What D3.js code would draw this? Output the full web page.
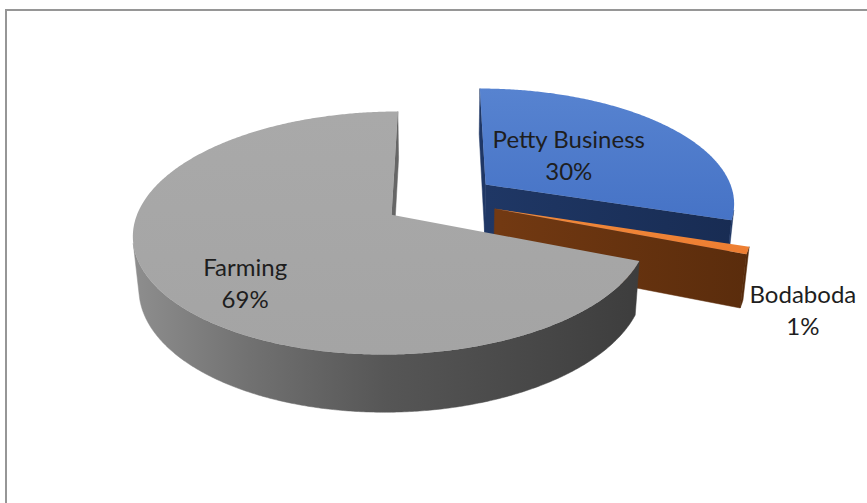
<!DOCTYPE html>
<html>
<head>
<meta charset="utf-8">
<script src="https://cdn.jsdelivr.net/npm/d3@7"></script>
<style>
html,body{margin:0;padding:0;background:#fff;}
svg{display:block;}
text{font-family:Lato,"Open Sans",sans-serif;}
</style>
</head>
<body>
<svg id="chart" width="867" height="503"></svg>
<script>
// ---- data ----
const categories = ["Petty Business", "Bodaboda", "Farming"];
const values = [30, 1, 69];
const pctLabels = ["30%", "1%", "69%"];

// ---- styles ----
const topColors = ["#4673c6", "#ed7d31", "#a4a4a4"];
const topColorsLight = ["#5783d0", "#f08a3c", "#a9a9a9"];
const wallColors = ["#1f3764", "#552a0b", null];

const W = 867, H = 503;
const svg = d3.select("#chart");

// projection parameters
const cx = 440, cy = 251, F = 1485, D = 6.06;
const phi = 29.2 * Math.PI / 180;
const sinP = Math.sin(phi), cosP = Math.cos(phi);
const hgt = 0.235, explode = 0.23;
const cam = [0, D * sinP, D * cosP];

function proj(x, y, z) {
  const d = D - (y * sinP + z * cosP);
  return [cx + F * x / d, cy - F * (y * cosP - z * sinP) / d];
}

const pie = d3.pie().sort(null).value(d => d).startAngle(0).endAngle(2 * Math.PI);
const arcs = pie(values);

const defs = svg.append("defs");
arcs.forEach((a, i) => {
  const g = defs.append("linearGradient").attr("id", "top" + i)
    .attr("x1", 0).attr("y1", 0).attr("x2", 0).attr("y2", 1);
  g.append("stop").attr("offset", 0).attr("stop-color", topColorsLight[i]);
  g.append("stop").attr("offset", 1).attr("stop-color", topColors[i]);
});
const fg = defs.append("linearGradient").attr("id", "farmSide")
  .attr("gradientUnits", "userSpaceOnUse")
  .attr("x1", 133).attr("y1", 0).attr("x2", 640).attr("y2", 0);
[[0, "#8e8e8e"], [0.23, "#717171"], [0.5, "#565656"], [1, "#3d3d3d"]]
  .forEach(s => fg.append("stop").attr("offset", s[0]).attr("stop-color", s[1]));
const bg = defs.append("linearGradient").attr("id", "bodaSide")
  .attr("gradientUnits", "userSpaceOnUse")
  .attr("x1", 500).attr("y1", 0).attr("x2", 750).attr("y2", 0);
bg.append("stop").attr("offset", 0).attr("stop-color", "#723912");
bg.append("stop").attr("offset", 1).attr("stop-color", "#5a2c0c");
const pg = defs.append("linearGradient").attr("id", "pettySide")
  .attr("gradientUnits", "userSpaceOnUse")
  .attr("x1", 487).attr("y1", 0).attr("x2", 735).attr("y2", 0);
pg.append("stop").attr("offset", 0).attr("stop-color", "#1f3765");
pg.append("stop").attr("offset", 1).attr("stop-color", "#182c53");
const radialFill = ["url(#pettySide)", "url(#bodaSide)", "#666666"];

// border
svg.append("rect").attr("x", 6).attr("y", 10).attr("width", 900).attr("height", 600)
  .attr("fill", "none").attr("stroke", "#969696").attr("stroke-width", 2);

const line = d3.line();
const gPie = svg.append("g");

function slicePoint(a, theta, r, y) {
  const mid = (a.startAngle + a.endAngle) / 2;
  const ox = explode * Math.sin(mid), oz = -explode * Math.cos(mid);
  return [ox + r * Math.sin(theta), y, oz - r * Math.cos(theta)];
}
function facing(p, n) {
  return (cam[0] - p[0]) * n[0] + (cam[1] - p[1]) * n[1] + (cam[2] - p[2]) * n[2] > 0;
}

arcs.forEach((a, i) => {
  const g = gPie.append("g");
  const a0 = a.startAngle, a1 = a.endAngle;
  const step = Math.PI / 360;
  [[a0, a0 - Math.PI / 2], [a1, a1 + Math.PI / 2]].forEach(([th, nth]) => {
    const n = [Math.sin(nth), 0, -Math.cos(nth)];
    const pc = slicePoint(a, th, 0.5, hgt / 2);
    if (!facing(pc, n)) return;
    const pts = [
      slicePoint(a, th, 0, hgt), slicePoint(a, th, 1, hgt),
      slicePoint(a, th, 1, 0), slicePoint(a, th, 0, 0)
    ].map(p => proj(...p));
    g.append("path").attr("d", line(pts) + "Z")
      .attr("fill", radialFill[i]).attr("stroke", radialFill[i]).attr("stroke-width", 0.5);
  });
  const ths = [];
  for (let t = a0; t <= a1 + 1e-9; t += step) ths.push(Math.min(t, a1));
  if (ths[ths.length - 1] < a1) ths.push(a1);
  let runs = [], cur = [];
  ths.forEach(t => {
    const n = [Math.sin(t), 0, -Math.cos(t)];
    const p = slicePoint(a, t, 1, hgt / 2);
    if (facing(p, n)) cur.push(t); else { if (cur.length) runs.push(cur); cur = []; }
  });
  if (cur.length) runs.push(cur);
  runs.forEach(run => {
    if (run.length < 2) return;
    const topPts = run.map(t => proj(...slicePoint(a, t, 1, hgt)));
    const botPts = run.slice().reverse().map(t => proj(...slicePoint(a, t, 1, 0)));
    const fill = i === 2 ? "url(#farmSide)" : (wallColors[i]);
    g.append("path").attr("d", line(topPts.concat(botPts)) + "Z")
      .attr("fill", fill).attr("stroke", fill).attr("stroke-width", 0.5);
  });
  const topFace = [proj(...slicePoint(a, a0, 0, hgt))]
    .concat(ths.map(t => proj(...slicePoint(a, t, 1, hgt))));
  g.append("path").attr("d", line(topFace) + "Z")
    .attr("fill", "url(#top" + i + ")");
});

// labels
const labelPos = [
  { r: 0.45, dx: -1, dy: -1 },
  { r: 1.0, dx: 55, dy: 60 },
  { r: 0.62, dx: -6, dy: 25 }
];
arcs.forEach((a, i) => {
  const mid = (a.startAngle + a.endAngle) / 2;
  const p = proj(...slicePoint(a, mid, labelPos[i].r, hgt));
  const x = p[0] + labelPos[i].dx, y = p[1] + labelPos[i].dy;
  const t = svg.append("text").attr("text-anchor", "middle")
    .attr("font-size", 24).attr("fill", "#1e1e1e");
  t.append("tspan").attr("x", x).attr("y", y - 8).text(categories[i]);
  t.append("tspan").attr("x", x).attr("y", y + 24).text(pctLabels[i]);
});
</script>
</body>
</html>
